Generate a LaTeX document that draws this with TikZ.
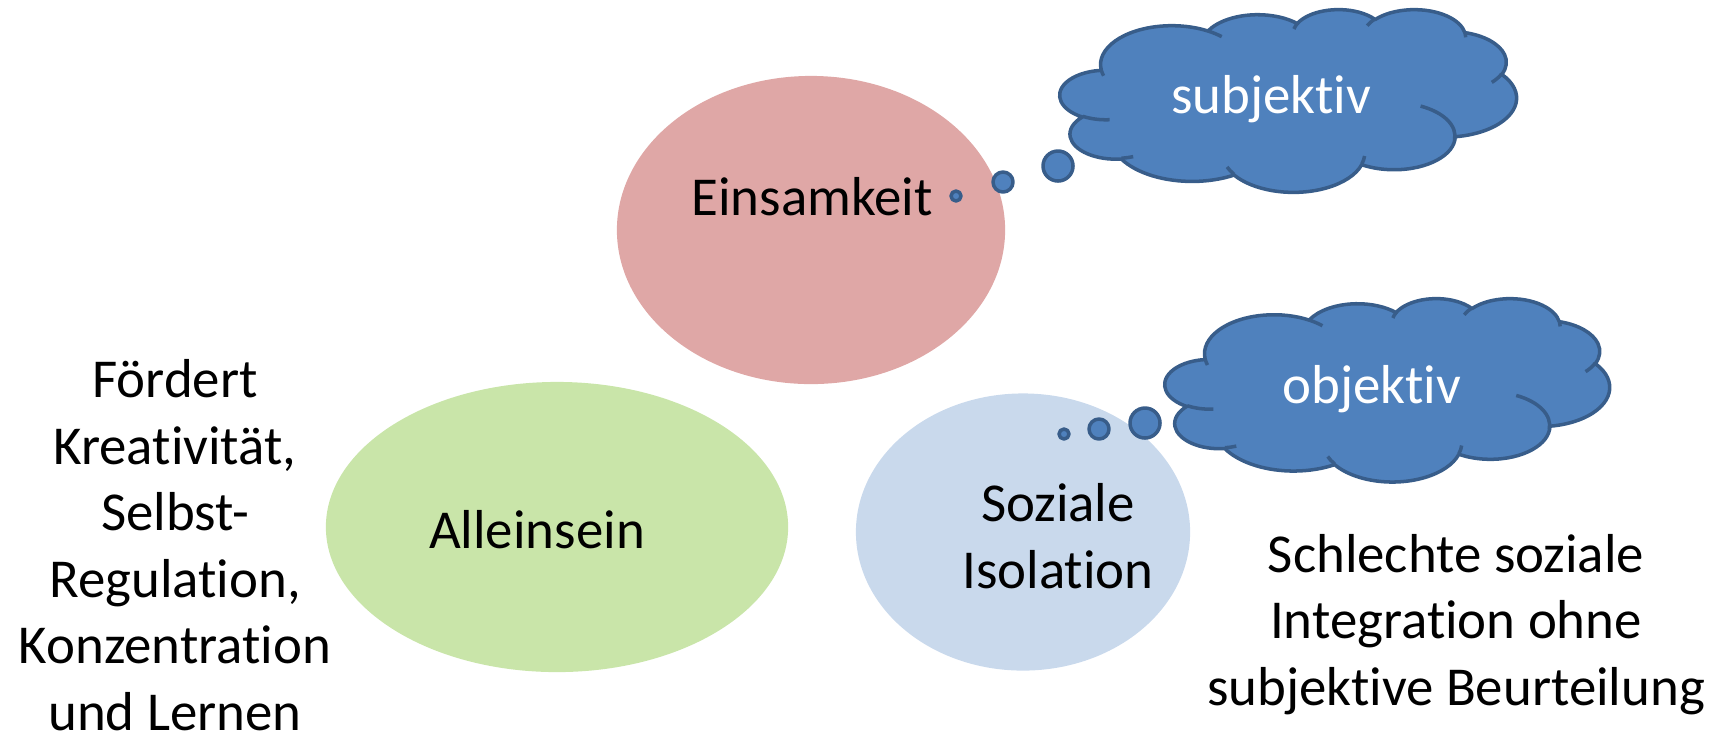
\documentclass[tikz,border=0pt]{standalone}
\usepackage{fontspec}
\setmainfont{Carlito}[Ligatures=NoCommon]
\usetikzlibrary{shapes.geometric}

\definecolor{einsam}{HTML}{DFA7A6}
\definecolor{allein}{HTML}{C9E5A9}
\definecolor{isol}{HTML}{C9D9EC}
\definecolor{cloudfill}{HTML}{4F81BD}
\definecolor{cloudline}{HTML}{385D8A}

\tikzset{
    blob/.style={ellipse, draw=none, inner sep=0pt},
    words/.style={font=\fontsize{15.6}{18.9}\selectfont, align=center, inner sep=0pt},
    thought/.style={fill=cloudfill, draw=cloudline, line width=1pt, line join=round},
    declare function={
        wrapd(\dd) = \dd - 360*round(\dd/360);
        visang(\ang,\rw,\rh) = \ang + wrapd(atan2(\rw*sin(\ang), \rh*cos(\ang)) - \ang);
    }
}

% one puff of the cloud outline (angles as seen on the ellipse)
\newcommand{\puff}[4]{arc[x radius=#1, y radius=#2, start angle={visang(#3,#1,#2)}, end angle={visang(#3+#4,#1,#2)}]}

% cloud in a 432 x 432 box: left, top, width, height
\newcommand{\drawcloud}[4]{%
    \pgfmathsetmacro{\cloudx}{#3/432*0.01}
    \pgfmathsetmacro{\cloudy}{#4/432*0.01}
    \begin{scope}[shift={(#1,#2)}, x=\cloudx cm, y=-\cloudy cm]
        \draw[thought] (39.00,143.70)
            \puff{67.53}{91.90}{-190.4875}{123.7805}
            \puff{53.33}{72.67}{-144.1024}{89.9452}
            \puff{43.65}{59.45}{-145.8079}{99.7230}
            \puff{48.57}{65.95}{-130.9861}{117.2417}
            \puff{53.33}{72.73}{-78.7089}{109.0269}
            \puff{67.75}{92.20}{-46.2673}{130.2690}
            \puff{57.85}{78.67}{0.6250}{114.0333}
            \puff{67.52}{92.15}{22.4516}{115.1726}
            \puff{77.20}{105.43}{66.2426}{75.7110}
            \puff{43.60}{59.18}{-274.9421}{146.7356}
            \puff{43.45}{59.45}{-246.8285}{152.5189}
            -- cycle;
        \draw[thought, fill=none]
            (46.93,261.77) \puff{43.45}{59.45}{86.7420}{26.4295}
            (69.28,348.99) \puff{43.60}{59.18}{73.6105}{11.4475}
            (164.78,390.90) \puff{67.52}{92.15}{137.6242}{14.0811}
            (288.27,347.51) \puff{67.52}{92.15}{6.4533}{15.9984}
            (341.29,229.54) \puff{57.85}{78.67}{-70.2924}{79.4455}
            (417.98,153.54) \puff{53.33}{72.73}{30.3180}{20.4441}
            (383.24,54.26) \puff{48.57}{65.95}{-13.7443}{14.8512}
            (290.78,39.52) \puff{48.57}{65.95}{-149.1815}{18.1844}
            (221.41,47.20) \puff{43.65}{59.45}{-163.4943}{17.6999}
            (140.00,51.92) \puff{67.53}{91.90}{-66.7070}{12.3194}
            (41.27,157.89) \puff{67.53}{91.90}{157.6544}{11.8582};
    \end{scope}
}

\begin{document}
\begin{tikzpicture}[x=0.01cm, y=-0.01cm]
    \useasboundingbox (0,0) rectangle (1716,735);

    \node[blob, fill=einsam, minimum width=3.88cm, minimum height=3.08cm] (einsam) at (811,230) {};
    \node[blob, fill=allein, minimum width=4.62cm, minimum height=2.90cm] (allein) at (557,527) {};
    \node[blob, fill=isol, minimum width=3.34cm, minimum height=2.77cm] (isol) at (1023,532) {};

    \node[words, anchor=base] (einsam-text) at (812,215) {Einsamkeit};
    \node[words, anchor=base] (allein-text) at (537,548) {Alleinsein};
    % base of a two-line node is the last line
    \node[words, anchor=base] (isol-text) at (1058,588) {Soziale\\Isolation};

    % thought bubbles
    \drawcloud{1060}{9}{457}{183}
    \draw[thought] (956,196) circle[radius=5];
    \draw[thought] (1003,182) circle[radius=10];
    \draw[thought] (1058,166) circle[radius=15];
    \node[words, text=white, anchor=base] (subj) at (1271,113) {subjektiv};

    \drawcloud{1165}{298}{445}{184}
    \draw[thought] (1064,434) circle[radius=5];
    \draw[thought] (1099,429) circle[radius=10];
    \draw[thought] (1145,423) circle[radius=15];
    \node[words, text=white, anchor=base] (obj) at (1372,403) {objektiv};

    \node[words, anchor=base] (foerdert) at (175,730) {Fördert\\Kreativität,\\Selbst-\\Regulation,\\Konzentration\\und Lernen};
    \node[words, anchor=base] (schlecht) at (1456,705) {Schlechte soziale\\Integration ohne\\subjektive Beurteilung};
\end{tikzpicture}
\end{document}
